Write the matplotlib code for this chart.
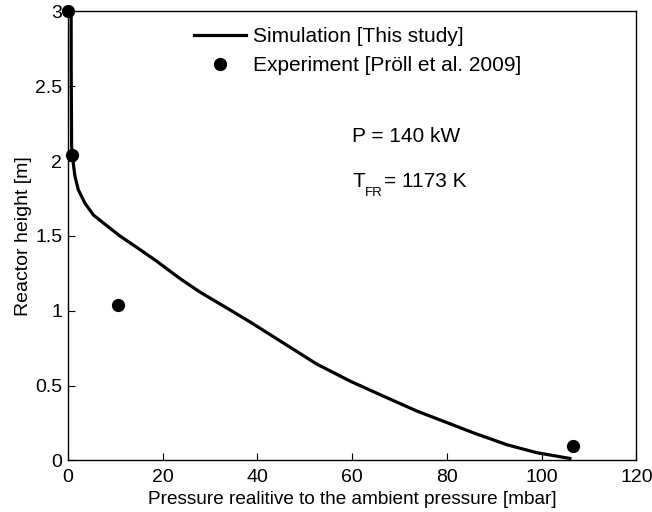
import matplotlib
matplotlib.use("Agg")
import matplotlib.pyplot as plt
from matplotlib.lines import Line2D

plt.rcParams['font.family'] = ['Liberation Sans', 'DejaVu Sans']

# Simulation curve (pressure [mbar], height [m])
sim_p = [0.7, 0.72, 0.8, 1.0, 1.14, 1.5, 2.2, 3.6, 5.4, 7.5, 11.0, 14.5, 18.6,
         23.7, 27.9, 33.5, 38.5, 42.3, 45.5, 52.5, 59.6, 66.6, 73.7, 80.7,
         85.6, 92.7, 99.0, 106.3]
sim_h = [3.0, 2.6, 2.1, 2.03, 1.99, 1.90, 1.81, 1.72, 1.64, 1.587, 1.50, 1.425, 1.335,
         1.215, 1.125, 1.02, 0.925, 0.849, 0.785, 0.645, 0.53, 0.43, 0.33, 0.245,
         0.185, 0.105, 0.052, 0.012]

# Experimental points
exp_p = [0.0, 0.95, 10.5, 106.7]
exp_h = [3.0, 2.04, 1.04, 0.10]

xticks = [0, 20, 40, 60, 80, 100, 120]
yticks = [0, 0.5, 1, 1.5, 2, 2.5, 3]
ytick_labels = ['0', '0.5', '1', '1.5', '2', '2.5', '3']

fig = plt.figure(figsize=(6.52, 5.12), dpi=100)
ax = fig.add_axes([0.104, 0.1006, 0.872, 0.877])

ax.plot(sim_p, sim_h, color='black', linewidth=2.3, solid_capstyle='butt',
        solid_joinstyle='round', zorder=2)
ax.plot(exp_p, exp_h, 'o', color='black', markersize=8.5, clip_on=False, zorder=3)

ax.set_xlim(0, 120)
ax.set_ylim(0, 3)
ax.set_xticks(xticks)
ax.set_yticks(yticks)
ax.set_yticklabels(ytick_labels)
ax.tick_params(direction='in', length=5, width=0.8, labelsize=14, top=False, right=False)
ax.tick_params(axis='x', pad=6)
ax.tick_params(axis='y', pad=4)
for s in ax.spines.values():
    s.set_linewidth(1.0)

ax.set_xlabel('Pressure realitive to the ambient pressure [mbar]', fontsize=13.7, labelpad=4)
ax.set_ylabel('Reactor height [m]', fontsize=14, labelpad=2)

handles = [Line2D([], [], color='black', linewidth=2.3),
           Line2D([], [], marker='o', linestyle='none', color='black', markersize=8.5)]
ax.legend(handles, ['Simulation [This study]', 'Experiment [Pröll et al. 2009]'],
          loc='upper left', bbox_to_anchor=(0.208, 0.983), frameon=False, fontsize=15,
          handlelength=2.5, handletextpad=0.3, labelspacing=0.45, borderaxespad=0)

ax.text(60.0, 2.166, 'P = 140 kW', fontsize=15, va='center', ha='left')
ax.text(60.0, 1.865, 'T', fontsize=15, va='center', ha='left')
ax.text(62.75, 1.785, 'FR', fontsize=9.5, va='center', ha='left')
ax.text(66.7, 1.865, '= 1173 K', fontsize=15, va='center', ha='left')

fig.savefig('out.png', dpi=100)
